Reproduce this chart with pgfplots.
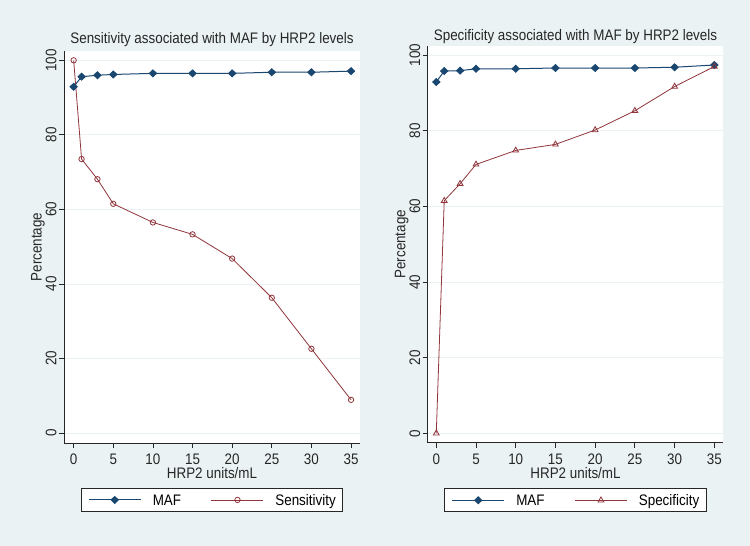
\documentclass[border=0pt]{standalone}
\usepackage{fontspec}
\setmainfont{Liberation Sans}[FakeStretch=0.88]
\usepackage{pgfplots}
\pgfplotsset{compat=1.18}
\definecolor{bg}{HTML}{EAF2F3}
\definecolor{navy}{HTML}{1A476F}
\definecolor{maroon}{HTML}{90353B}
\newcommand\F{\fontsize{15.3}{18}\selectfont}
\pgfplotsset{
  stata/.style={
    scale only axis,
    anchor=south west,
    /pgf/number format/assume math mode=true,
    axis x line*=bottom, axis y line*=left,
    axis line style={black!85, line width=0.8bp},
    tick align=outside, major tick length=5bp,
    tick style={black!85, line width=0.8bp},
    xtick={0,5,...,35}, ytick={0,20,...,100},
    minor tick num=0,
    ymajorgrids, grid style={bg, line width=0.8bp},
    axis background/.style={fill=white},
    tick label style={font=\F, text=black!85},
    yticklabel style={rotate=90, anchor=south, inner sep=0pt},
    yticklabel shift=2.3bp,
    xticklabel style={anchor=north, inner sep=0pt},
    xticklabel shift=5.8bp,
    every axis title shift=0pt,
    xlabel={HRP2 units/mL},
    ylabel={Percentage},
    label style={font=\F, text=black!85, inner sep=0pt},
    title style={font=\F, text=black!85, inner sep=0pt, anchor=base},
    legend columns=2,
    legend style={font=\F, draw=black!85, line width=0.8bp, fill=white,
      inner xsep=7bp, inner ysep=6bp, anchor=north,
      nodes={inner sep=0pt, text depth=0pt},
      /tikz/every odd column/.append style={column sep=11.5bp},
      /tikz/every even column/.append style={column sep=30bp}},
    legend image code/.code={\draw[mark repeat=2,mark phase=2,##1] plot coordinates {(0bp,0bp) (26bp,0bp) (52bp,0bp)};},
  },
  maf/.style={color=navy, line width=1bp, mark=diamond*, mark size=3.4bp, mark options={fill=navy, solid, xscale=1.4}},
  sen/.style={color=maroon, line width=0.8bp, mark=o, mark size=2.7bp, mark options={solid}},
  spe/.style={color=maroon, line width=0.8bp, mark=triangle, mark size=3.3bp, mark options={solid}},
}
\begin{document}
\begin{tikzpicture}
\fill[bg] (0,0) rectangle (750bp,546bp);
\begin{axis}[stata, at={(64bp,103bp)}, width=296bp, height=392bp,
  xmin=-1.22, xmax=36.13, ymin=-2.68, ymax=102.5,
  title={Sensitivity associated with MAF by HRP2 levels},
  title style={at={(axis description cs:0.5,1.0189)}},
  ylabel style={at={(axis description cs:-0.0753,0.5)}, anchor=base},
  xlabel style={at={(axis description cs:0.5,-0.0628)}, anchor=north},
  legend style={at={(axis description cs:0.5,-0.1148)}},
]
\addplot[maf] coordinates {(0,92.9) (1,95.6) (3,96.0) (5,96.2) (10,96.5) (15,96.5) (20,96.5) (25,96.8) (30,96.8) (35,97.1)};
\addlegendentry{MAF}
\addplot[sen] coordinates {(0,100) (1,73.5) (3,68.1) (5,61.5) (10,56.5) (15,53.3) (20,46.8) (25,36.3) (30,22.6) (35,8.9)};
\addlegendentry{Sensitivity}
\end{axis}
\begin{axis}[stata, at={(427.7bp,103.3bp)}, width=295.6bp, height=397bp,
  xmin=-1.08, xmax=36.13, ymin=-2.49, ymax=102.5,
  title={Specificity associated with MAF by HRP2 levels},
  title style={at={(axis description cs:0.5,1.0126)}},
  ylabel style={at={(axis description cs:-0.0753,0.5)}, anchor=base},
  xlabel style={at={(axis description cs:0.5,-0.062)}, anchor=north},
  legend style={at={(axis description cs:0.5,-0.115)}},
]
\addplot[maf] coordinates {(0,92.9) (1,95.8) (3,95.9) (5,96.4) (10,96.4) (15,96.6) (20,96.6) (25,96.6) (30,96.8) (35,97.4)};
\addlegendentry{MAF}
\addplot[spe] coordinates {(0,0) (1,61.5) (3,66.0) (5,71.1) (10,74.8) (15,76.4) (20,80.2) (25,85.3) (30,91.7) (35,97.0)};
\addlegendentry{Specificity}
\end{axis}
\end{tikzpicture}
\end{document}
